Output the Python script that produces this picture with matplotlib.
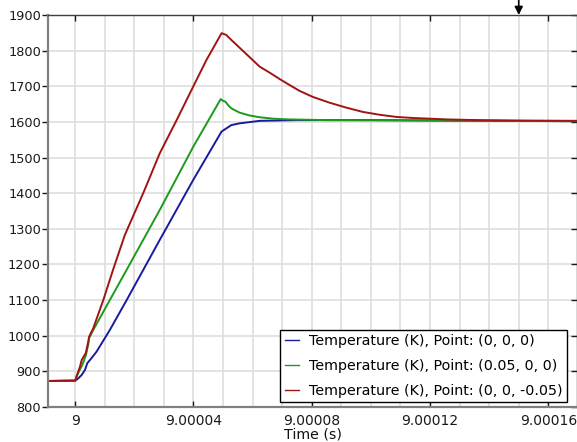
import matplotlib
matplotlib.use("Agg")
import matplotlib.pyplot as plt
from matplotlib.ticker import MultipleLocator, FuncFormatter
from matplotlib.transforms import blended_transform_factory

# time offsets after t = 9 s, in units of 1e-5 s
T0 = 9.0
SCALE = 1e-5

blue_off = [-0.92, 0.0, 0.10, 0.22, 0.33, 0.41, 0.55, 0.72, 1.17, 1.74, 2.86,
            3.99, 4.95, 5.28, 5.56, 6.24, 7.5, 10.0, 14.0, 16.97]
blue_T = [873, 874, 880, 890, 904, 923, 937, 955, 1016, 1100, 1269,
          1437, 1573, 1591, 1596, 1603, 1605, 1605, 1603, 1602]

green_off = [-0.92, 0.0, 0.06, 0.16, 0.24, 0.36, 0.44, 0.47, 0.61, 1.17, 1.74,
             2.86, 3.99, 4.92, 5.00, 5.08, 5.17, 5.28, 5.56, 5.9, 6.24, 6.7,
             7.2, 8.5, 12.0, 16.97]
green_T = [873, 874, 888, 905, 918, 945, 975, 993, 1016, 1100, 1185,
           1353, 1530, 1664, 1659, 1657, 1647, 1638, 1626, 1618, 1613, 1609,
           1607, 1605, 1604, 1602]

red_off = [-0.92, 0.0, 0.05, 0.16, 0.22, 0.36, 0.44, 0.47, 0.61, 0.95, 1.28,
           1.68, 2.30, 2.86, 3.43, 3.99, 4.44, 4.95, 5.11, 5.28, 6.24, 6.6,
           6.92, 7.3, 7.59, 8.04, 8.6, 9.17, 9.73, 10.30, 10.86, 11.42, 12.0,
           12.55, 13.65, 14.8, 16.97]
red_T = [873, 874, 887, 913, 932, 952, 983, 997, 1021, 1100, 1185,
         1283, 1400, 1512, 1605, 1699, 1774, 1849, 1844, 1830, 1755, 1737,
         1720, 1701, 1687, 1670, 1654, 1640, 1628, 1620, 1614, 1611, 1609,
         1607, 1605, 1604, 1603]

labels = ["Temperature (K), Point: (0, 0, 0)",
          "Temperature (K), Point: (0.05, 0, 0)",
          "Temperature (K), Point: (0, 0, -0.05)"]
colors = ["#1a1a9c", "#1c9a1c", "#a01414"]

marker_off = 15.0


def to_time(offsets):
    return [T0 + o * SCALE for o in offsets]


def fmt_time(v, pos):
    return f"{v:.5f}".rstrip("0").rstrip(".")


plt.rcParams["font.family"] = "DejaVu Sans"
fig = plt.figure(figsize=(5.77, 4.42), dpi=100)
ax = fig.add_axes([48 / 577, 35 / 442, 529 / 577, 392 / 442])

for off, temp, lab, col in zip([blue_off, green_off, red_off],
                               [blue_T, green_T, red_T], labels, colors):
    ax.plot(to_time(off), temp, color=col, lw=1.4, label=lab)

ax.set_xlim(T0 - 0.92 * SCALE, T0 + 16.97 * SCALE)
ax.set_ylim(800, 1900)
ax.xaxis.set_major_locator(MultipleLocator(4 * SCALE))
ax.xaxis.set_minor_locator(MultipleLocator(SCALE))
ax.xaxis.set_major_formatter(FuncFormatter(fmt_time))
ax.yaxis.set_major_locator(MultipleLocator(100))

ax.grid(True, which="both", color="#dedede", lw=1.2)
ax.set_axisbelow(True)

ax.tick_params(axis="x", which="major", direction="in", length=4, width=1,
               top=True, labelsize=10, colors="#1a1a1a", pad=5)
ax.tick_params(axis="y", which="major", direction="out", length=4, width=1,
               labelsize=9.3, colors="#1a1a1a", pad=1)
ax.tick_params(axis="y", which="major", right=True)
ax.tick_params(which="minor", length=0)
for t in ax.yaxis.get_ticklines()[1::2]:
    # right-hand tick marks point into the plot
    t.set_marker(0)
for side in ("left", "bottom"):
    ax.spines[side].set_color("#808080")
    ax.spines[side].set_linewidth(1.6)
for side in ("top", "right"):
    ax.spines[side].set_color("#404040")
    ax.spines[side].set_linewidth(1.0)

ax.set_xlabel("Time (s)", fontsize=10.2, color="#111111")
ax.xaxis.set_label_coords(0.5, -0.053)

leg = ax.legend(loc="lower right", bbox_to_anchor=(0.981, 0.013),
                borderaxespad=0, fontsize=10.3, fancybox=False,
                framealpha=1, edgecolor="black", handlelength=1.0,
                handletextpad=0.7, borderpad=0.3, labelspacing=0.75)
leg.get_frame().set_linewidth(1.0)
for h in leg.get_lines():
    h.set_linewidth(1.0)

# downward arrow marking t = 9.00015 s above the plot frame
trans = blended_transform_factory(ax.transData, ax.transAxes)
ax.annotate("", xy=(T0 + marker_off * SCALE, 1.0), xycoords=trans,
            xytext=(T0 + marker_off * SCALE, 1.04), textcoords=trans,
            arrowprops=dict(arrowstyle="-|>", color="black", lw=1.2,
                            mutation_scale=12, shrinkA=0, shrinkB=0),
            annotation_clip=False)

fig.savefig("out.png", dpi=100)
